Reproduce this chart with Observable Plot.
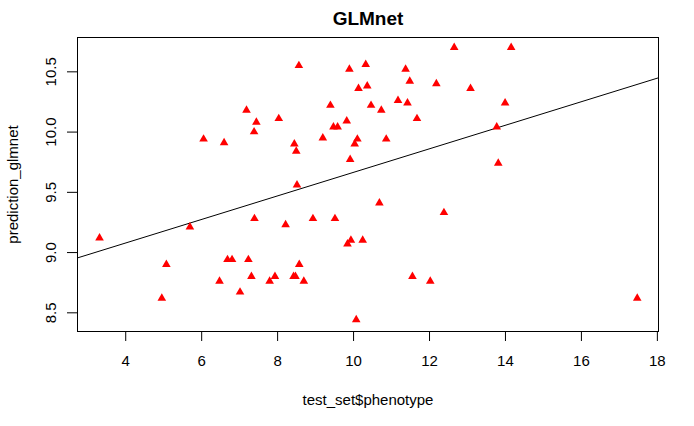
<!DOCTYPE html>
<html>
<head>
<meta charset="utf-8">
<script src="https://cdn.jsdelivr.net/npm/d3@7"></script>
<script src="https://cdn.jsdelivr.net/npm/@observablehq/plot@0.6"></script>
<style>
  html, body { margin: 0; padding: 0; background: #fff; overflow: hidden; }
</style>
</head>
<body>
<div id="chart"></div>
<script>
const phenotype = [6.05,6.59,8.56,9.89,10.32,10.13,10.36,10.46,
  7.18,7.44,7.38,8.03,8.44,8.49,9.19,9.39,9.47,9.58,9.82,10.10,10.03,9.91,8.51,
  12.65,14.15,11.37,11.48,12.18,13.08,11.17,11.42,10.73,11.67,13.99,10.86,13.77,13.81,
  3.31,5.69,7.39,8.21,8.93,9.51,9.84,9.93,10.24,
  5.07,4.95,6.47,6.68,6.80,7.01,7.23,7.31,7.79,7.93,8.42,8.47,8.57,8.69,
  10.07,10.68,12.38,11.55,12.02,17.47];
const prediction = [9.95,9.92,10.56,10.53,10.57,10.37,10.39,10.23,
  10.19,10.09,10.01,10.12,9.91,9.85,9.96,10.23,10.05,10.05,10.10,9.95,9.91,9.78,9.57,
  10.71,10.71,10.53,10.43,10.41,10.37,10.27,10.25,10.19,10.12,10.25,9.95,10.05,9.75,
  9.13,9.22,9.29,9.24,9.29,9.29,9.08,9.11,9.11,
  8.91,8.63,8.77,8.95,8.95,8.68,8.95,8.81,8.77,8.81,8.81,8.81,8.91,8.77,
  8.45,9.42,9.34,8.81,8.77,8.63];
const xTicks = [4, 6, 8, 10, 12, 14, 16, 18];
const yTicks = [8.5, 9.0, 9.5, 10.0, 10.5];
const lineIntercept = 8.689;
const lineSlope = 0.0977;
const titleText = "GLMnet";
const xLabel = "test_set$phenotype";
const yLabel = "prediction_glmnet";

const xDomain = [2.73, 18.03];
const yDomain = [8.345, 10.785];

const points = phenotype.map((x, i) => ({x, y: prediction[i]}));
const fitLine = xDomain.map(x => ({x, y: lineIntercept + lineSlope * x}));

const font = "'Liberation Sans', Arial, sans-serif";

const chart = Plot.plot({
  width: 694,
  height: 426,
  marginLeft: 77,
  marginRight: 36,
  marginTop: 37,
  marginBottom: 95,
  style: {fontFamily: font, fontSize: "15px", color: "black", background: "white"},
  x: {domain: xDomain, label: null},
  y: {domain: yDomain, label: null},
  marks: [
    Plot.frame({stroke: "black", strokeWidth: 1}),
    Plot.axisX({ticks: xTicks, tickSize: 10, tickPadding: 14, tickFormat: d3.format("d"), label: null, fontSize: 15}),
    Plot.axisY({ticks: yTicks, tickSize: 10, tickPadding: 12, tickRotate: -90, tickFormat: d3.format(".1f"), label: null, fontSize: 15}),
    Plot.line(fitLine, {x: "x", y: "y", stroke: "black", strokeWidth: 1, clip: true}),
    Plot.dot(points, {x: "x", y: "y", symbol: "triangle", fill: "#ff0000", r: 3.2, dy: 1}),
    Plot.text([titleText], {text: d => d, frameAnchor: "top", dy: -13, lineAnchor: "bottom", fontWeight: "bold", fontSize: 19}),
    Plot.text([xLabel], {text: d => d, frameAnchor: "bottom", dy: 73, lineAnchor: "bottom", fontSize: 15}),
    Plot.text([yLabel], {text: d => d, frameAnchor: "left", dx: -60, rotate: -90, lineAnchor: "bottom", textAnchor: "middle", fontSize: 15})
  ]
});
document.getElementById("chart").appendChild(chart);
</script>
</body>
</html>
